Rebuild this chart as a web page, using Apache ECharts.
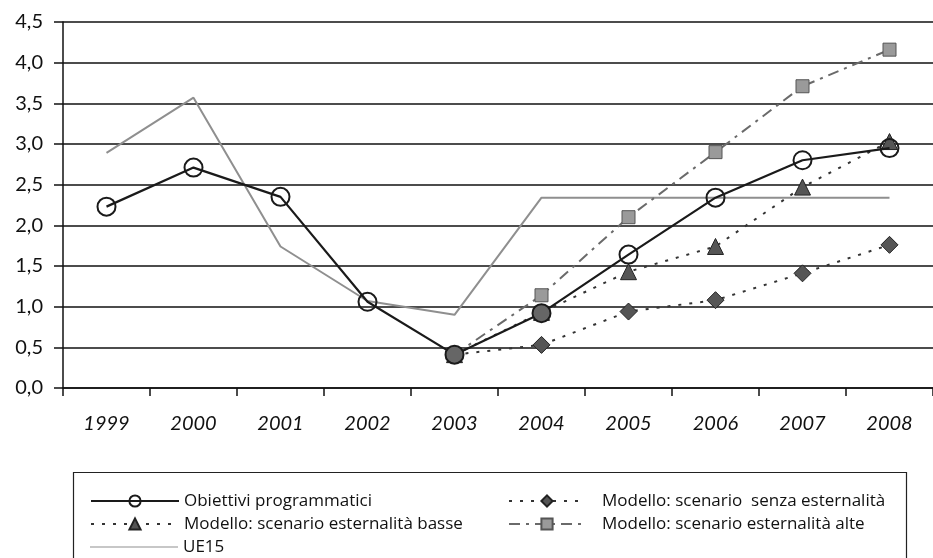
<!DOCTYPE html>
<html>
<head>
<meta charset="utf-8">
<script src="https://cdn.jsdelivr.net/npm/echarts@6/dist/echarts.min.js"></script>
<style>
html,body{margin:0;padding:0;background:#fff;}
#chart{width:933px;height:558px;}
</style>
</head>
<body>
<div id="chart"></div>
<script>
const years = ['1999','2000','2001','2002','2003','2004','2005','2006','2007','2008'];
const obiettivi = [2.23, 2.71, 2.35, 1.06, 0.41, 0.92, 1.64, 2.34, 2.80, 2.95];
const senza = [null, null, null, null, 0.41, 0.53, 0.94, 1.08, 1.41, 1.76];
const basse = [null, null, null, null, 0.41, 0.93, 1.43, 1.74, 2.47, 3.03];
const alte = [null, null, null, null, 0.41, 1.14, 2.10, 2.90, 3.71, 4.16];
const ue15 = [2.89, 3.57, 1.74, 1.07, 0.90, 2.34, 2.34, 2.34, 2.34, 2.34];
const yTicks = ['0,0','0,5','1,0','1,5','2,0','2,5','3,0','3,5','4,0','4,5'];

const names = {
  obiettivi: 'Obiettivi programmatici',
  basse: 'Modello: scenario esternalità basse',
  ue15: 'UE15',
  senza: 'Modello: scenario  senza esternalità',
  alte: 'Modello: scenario esternalità alte'
};

const FONT = 'Lato, "Noto Sans", sans-serif';
const LFONT = '"Open Sans", Lato, sans-serif';
const chart = echarts.init(document.getElementById('chart'));

function legendFor(name, left, top, width, pad, extra) {
  return {
    orient: 'horizontal', left: left, top: top,
    itemWidth: width, itemHeight: 14,
    textStyle: {fontFamily: LFONT, fontSize: 17, color: '#111', lineHeight: 18, padding: [0, 0, 0, pad]},
    data: [Object.assign({name: name}, extra || {})]
  };
}

chart.setOption({
  animation: false,
  backgroundColor: '#fff',
  grid: {left: 63, right: 0, top: 22, bottom: 170, containLabel: false},
  xAxis: {
    type: 'category',
    data: years,
    boundaryGap: true,
    axisLine: {lineStyle: {color: '#111', width: 1.5}},
    axisTick: {show: true, length: 8, lineStyle: {color: '#111', width: 1.5}},
    axisLabel: {fontFamily: FONT, fontSize: 20, fontStyle: 'italic', color: '#111', margin: 26}
  },
  yAxis: {
    type: 'value',
    min: 0, max: 4.5, interval: 0.5,
    axisLine: {show: true, lineStyle: {color: '#111', width: 1.5}},
    axisTick: {show: true, length: 9, lineStyle: {color: '#111', width: 1.5}},
    axisLabel: {
      fontFamily: FONT, fontSize: 20, color: '#111', margin: 20,
      formatter: (v) => yTicks[Math.round(v / 0.5)]
    },
    splitLine: {show: true, lineStyle: {color: '#111', width: 1.6}}
  },
  legend: [
    legendFor(names.obiettivi, 85, 487, 88, 0),
    legendFor(names.basse, 85, 510, 88, 0),
    legendFor(names.ue15, 85, 533, 88, 0, {icon: 'path://M0,0 L100,0 L100,1 L0,1 Z'}),
    legendFor(names.senza, 503, 487, 76, 12),
    legendFor(names.alte, 503, 510, 76, 12)
  ],
  graphic: [{
    type: 'rect',
    shape: {x: 73.5, y: 472.5, width: 833, height: 100},
    style: {fill: 'none', stroke: '#222', lineWidth: 1.2},
    silent: true
  }],
  series: [
    {
      name: names.ue15, type: 'line', data: ue15,
      symbol: 'none', z: 1,
      lineStyle: {color: '#8f8f8f', width: 2},
      itemStyle: {color: '#8f8f8f'}
    },
    {
      name: names.alte, type: 'line', data: alte,
      symbol: 'rect', symbolSize: 13, z: 2,
      lineStyle: {color: '#6a6a6a', width: 2, type: [11, 6, 3, 6]},
      itemStyle: {color: '#9a9a9a', borderColor: '#555', borderWidth: 1}
    },
    {
      name: names.senza, type: 'line', data: senza,
      symbol: 'diamond', symbolSize: 17, z: 3,
      lineStyle: {color: '#333', width: 2, type: [3, 8]},
      itemStyle: {color: '#555', borderColor: '#222', borderWidth: 1}
    },
    {
      name: names.basse, type: 'line', data: basse,
      symbol: 'triangle', symbolSize: 16, z: 3,
      lineStyle: {color: '#333', width: 2, type: [3, 8]},
      itemStyle: {color: '#555', borderColor: '#222', borderWidth: 1}
    },
    {
      name: names.obiettivi, type: 'line',
      data: obiettivi.map((v, i) => (i === 4 || i === 5) ? {value: v, itemStyle: {color: '#666'}} : v),
      symbol: 'circle', symbolSize: 18, z: 4,
      lineStyle: {color: '#1a1a1a', width: 2.2},
      itemStyle: {color: 'rgba(255,255,255,0)', borderColor: '#1a1a1a', borderWidth: 2}
    }
  ]
});
</script>
</body>
</html>
